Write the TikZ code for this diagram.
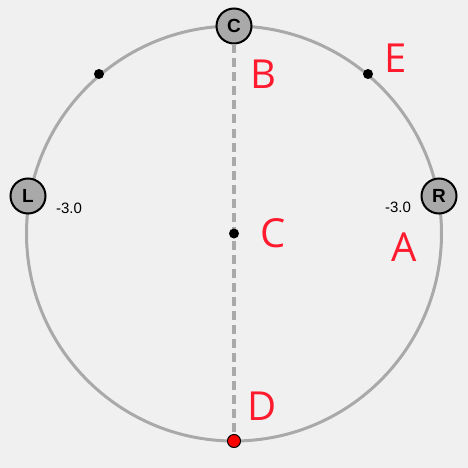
\documentclass[tikz,border=0pt]{standalone}
\usepackage{fontspec}
\setmainfont{Liberation Sans}
\newfontfamily\bigfont{Open Sans}
\usetikzlibrary{positioning}
\definecolor{bgcol}{HTML}{F0F0F0}
\definecolor{ringcol}{HTML}{A9A9A9}
\definecolor{markred}{HTML}{FF1A2E}

\begin{document}
\begin{tikzpicture}[
    x=1pt,y=-1pt,
    pole/.style={circle,draw=black,line width=2pt,fill=ringcol,minimum size=35pt,inner sep=0pt,font=\fontsize{19}{19}\selectfont\bfseries},
    dot/.style={circle,fill=black,minimum size=10pt,inner sep=0pt},
    tag/.style={font=\fontsize{40}{40}\bigfont,text=markred,inner sep=0pt},
    val/.style={font=\fontsize{15}{15}\selectfont,inner sep=0pt}
]
\fill[bgcol] (0,0) rectangle (468,468);
\useasboundingbox (0,0) rectangle (468,468);
\coordinate (O) at (234,233.5);
\draw[ringcol,line width=3pt] (O) circle (207.5pt);
\node[circle,draw=black,line width=1pt,fill=red,minimum size=13pt,inner sep=0pt] (bottom) at (234,441) {};
\node[pole] (top) at (234,26) {C};
\draw[ringcol,line width=3.5pt,dash pattern=on 9pt off 5pt] (top) -- (bottom);
\node[pole] (left) at (28,196) {L};
\node[pole] (right) at (439,196) {R};
\node[dot] (ul) at (99,74) {};
\node[dot] (ur) at (368,74) {};
\node[dot] (mid) at (234,233.5) {};
\node[val] (lval) at (69,208) {-3.0};
\node[val] (rval) at (398,207) {-3.0};
\node[tag] (tb) at (263,74) {B};
\node[tag] (te) at (396,58) {E};
\node[tag] (tc) at (273,233) {C};
\node[tag] (ta) at (404,247) {A};
\node[tag] (td) at (262,406) {D};
\end{tikzpicture}
\end{document}
